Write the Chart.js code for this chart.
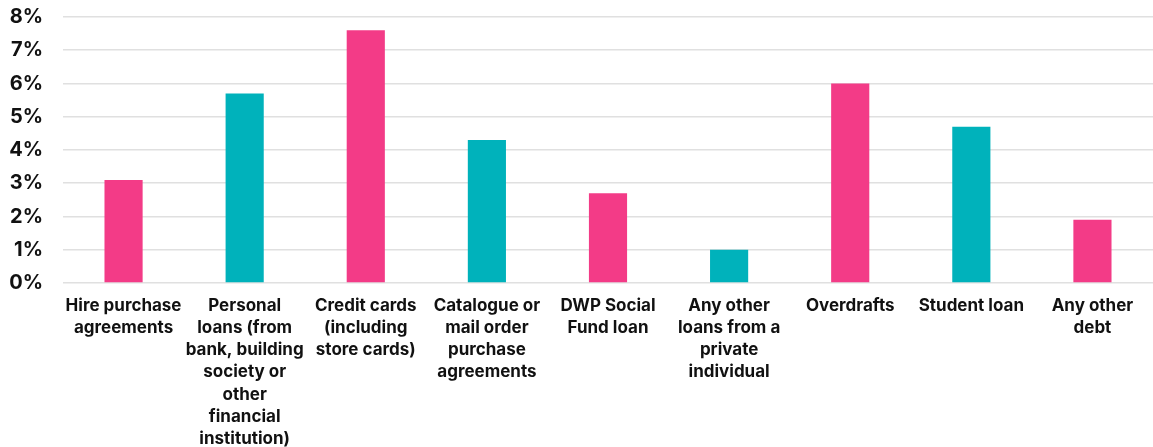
<!DOCTYPE html>
<html>
<head>
<meta charset="utf-8">
<script src="https://cdn.jsdelivr.net/npm/chart.js@4/dist/chart.umd.min.js"></script>
<style>
  html, body { margin: 0; padding: 0; background: #ffffff; }
  #wrap { width: 1153px; height: 447px; }
</style>
</head>
<body>
<div id="wrap"><canvas id="debtChart"></canvas></div>
<script>
// debt types, split into lines the way they wrap under each bar
var categories = [
    ['Hire purchase', 'agreements'],
    ['Personal', 'loans (from', 'bank, building', 'society or', 'other', 'financial', 'institution)'],
    ['Credit cards', '(including', 'store cards)'],
    ['Catalogue or', 'mail order', 'purchase', 'agreements'],
    ['DWP Social', 'Fund loan'],
    ['Any other', 'loans from a', 'private', 'individual'],
    ['Overdrafts'],
    ['Student loan'],
    ['Any other', 'debt']
];

// share of people holding each type (%)
var shares = [3.1, 5.7, 7.6, 4.3, 2.7, 1.0, 6.0, 4.7, 1.9];

var yTicks = [0, 1, 2, 3, 4, 5, 6, 7, 8];

var PINK = '#F33B87';
var TEAL = '#00B2BB';
var barColours = shares.map(function (v, i) { return i % 2 === 0 ? PINK : TEAL; });

Chart.defaults.font.family = 'Inter, "Liberation Sans", sans-serif';
Chart.defaults.color = '#111111';

var ctx = document.getElementById('debtChart').getContext('2d');
var chart = new Chart(ctx, {
    type: 'bar',
    data: {
        labels: categories,
        datasets: [{
            data: shares,
            backgroundColor: barColours,
            borderWidth: 0,
            barPercentage: 0.315,
            categoryPercentage: 1.0
        }]
    },
    options: {
        responsive: true,
        maintainAspectRatio: false,
        animation: false,
        layout: { padding: { top: 17, right: 0, left: 0, bottom: 0 } },
        plugins: {
            legend: { display: false },
            tooltip: { enabled: false }
        },
        scales: {
            x: {
                grid: { display: false, drawTicks: false },
                border: { display: false },
                afterFit: function (axis) { axis.height = 164; },
                ticks: {
                    maxRotation: 0,
                    autoSkip: false,
                    padding: 12,
                    font: { size: 17, weight: 'bold', lineHeight: 1.3 },
                    color: '#111111'
                }
            },
            y: {
                min: 0,
                max: 8,
                afterBuildTicks: function (axis) {
                    axis.ticks = yTicks.map(function (v) { return { value: v }; });
                },
                afterFit: function (axis) {
                    axis.width = 63;
                    axis.paddingTop = 0;
                    axis.paddingBottom = 0;
                },
                grid: { color: '#e0e0e0', lineWidth: 1.6, drawTicks: false },
                border: { display: false },
                ticks: {
                    padding: 20,
                    font: { size: 20, weight: 'bold' },
                    color: '#111111',
                    callback: function (v) { return v + '%'; }
                }
            }
        }
    }
});
</script>
</body>
</html>
